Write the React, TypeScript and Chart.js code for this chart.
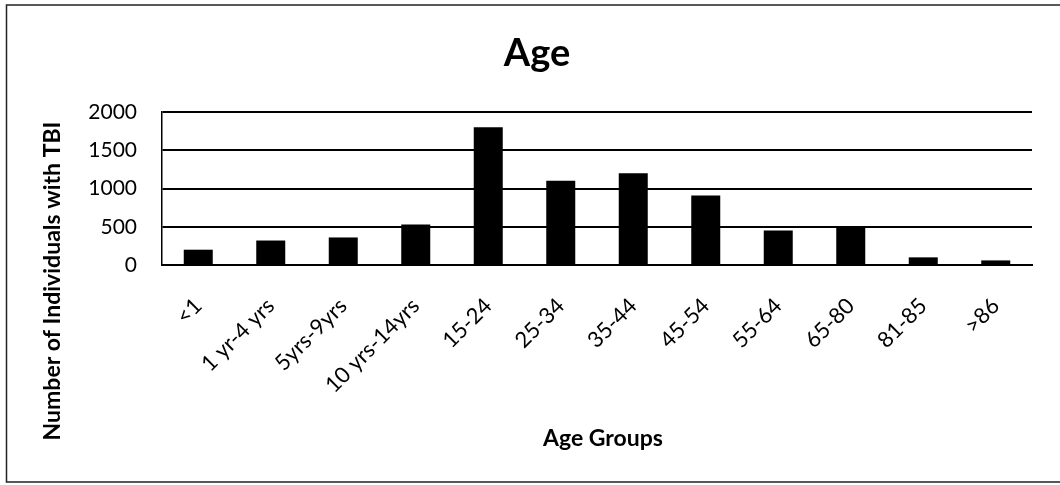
import React, { useEffect, useRef } from "react";
import { Chart, registerables } from "chart.js";

Chart.register(...registerables);

const chartTitle = "Age";
const xAxisTitle = "Age Groups";
const yAxisTitle = "Number of Individuals with TBI";
const categories = ["<1", "1 yr-4 yrs", "5yrs-9yrs", "10 yrs-14yrs", "15-24", "25-34", "35-44", "45-54", "55-64", "65-80", "81-85", ">86"];
const counts = [200, 320, 360, 530, 1800, 1100, 1200, 910, 450, 490, 100, 60];
const yMin = 0;
const yMax = 2000;
const yStep = 500;

const FONT = "Lato, 'Open Sans', sans-serif";

const decorPlugin = {
  id: "decor",
  beforeDraw(chart: any) {
    const ctx = chart.ctx;
    ctx.save();
    ctx.fillStyle = "#ffffff";
    ctx.fillRect(0, 0, chart.width, chart.height);
    ctx.strokeStyle = "#222";
    ctx.lineWidth = 1.5;
    ctx.beginPath();
    ctx.moveTo(chart.width, 5);
    ctx.lineTo(6.5, 5);
    ctx.lineTo(6.5, 482);
    ctx.lineTo(chart.width, 482);
    ctx.stroke();
    ctx.restore();
  },
  afterDraw(chart: any) {
    const ctx = chart.ctx;
    ctx.save();
    ctx.fillStyle = "#000";
    ctx.textAlign = "center";
    ctx.textBaseline = "alphabetic";
    ctx.font = `bold 38px ${FONT}`;
    ctx.fillText(chartTitle, 537, 66);
    ctx.font = `bold 23px ${FONT}`;
    ctx.fillText(xAxisTitle, 603, 446);
    ctx.translate(53, 281);
    ctx.rotate(-Math.PI / 2);
    ctx.textBaseline = "middle";
    ctx.fillText(yAxisTitle, 0, 0);
    ctx.restore();
  },
};

export default function App() {
  const ref = useRef<HTMLCanvasElement>(null);
  useEffect(() => {
    document.body.style.margin = "0";
    const chart = new Chart(ref.current!, {
      type: "bar",
      data: {
        labels: categories,
        datasets: [
          {
            data: counts,
            backgroundColor: "#000",
            borderWidth: 0,
            barPercentage: 0.4,
            categoryPercentage: 1.0,
          },
        ],
      },
      options: {
        animation: false,
        responsive: false,
        devicePixelRatio: 1,
        layout: { padding: { top: 112, left: 0, right: 28, bottom: 0 } },
        plugins: {
          legend: { display: false },
          tooltip: { enabled: false },
          title: { display: false },
        },
        scales: {
          x: {
            afterFit: (s: any) => {
              s.height = 220;
            },
            grid: { display: false, drawTicks: false },
            border: { display: true, color: "#000", width: 2 },
            ticks: {
              color: "#000",
              font: { family: FONT, size: 22 },
              minRotation: 45,
              maxRotation: 45,
              autoSkip: false,
              padding: 28,
            },
          },
          y: {
            min: yMin,
            max: yMax,
            afterFit: (s: any) => {
              s.width = 162;
            },
            grid: { color: "#000", lineWidth: 2, drawTicks: false },
            border: { display: true, color: "#000", width: 1.5 },
            ticks: {
              stepSize: yStep,
              color: "#000",
              font: { family: FONT, size: 21 },
              padding: 25,
              callback: (v: any) => String(v),
            },
          },
        },
      },
      plugins: [decorPlugin],
    });
    return () => chart.destroy();
  }, []);
  return (
    <div style={{ width: 1060, height: 485 }}>
      <canvas ref={ref} width={1060} height={485} style={{ display: "block" }} />
    </div>
  );
}
